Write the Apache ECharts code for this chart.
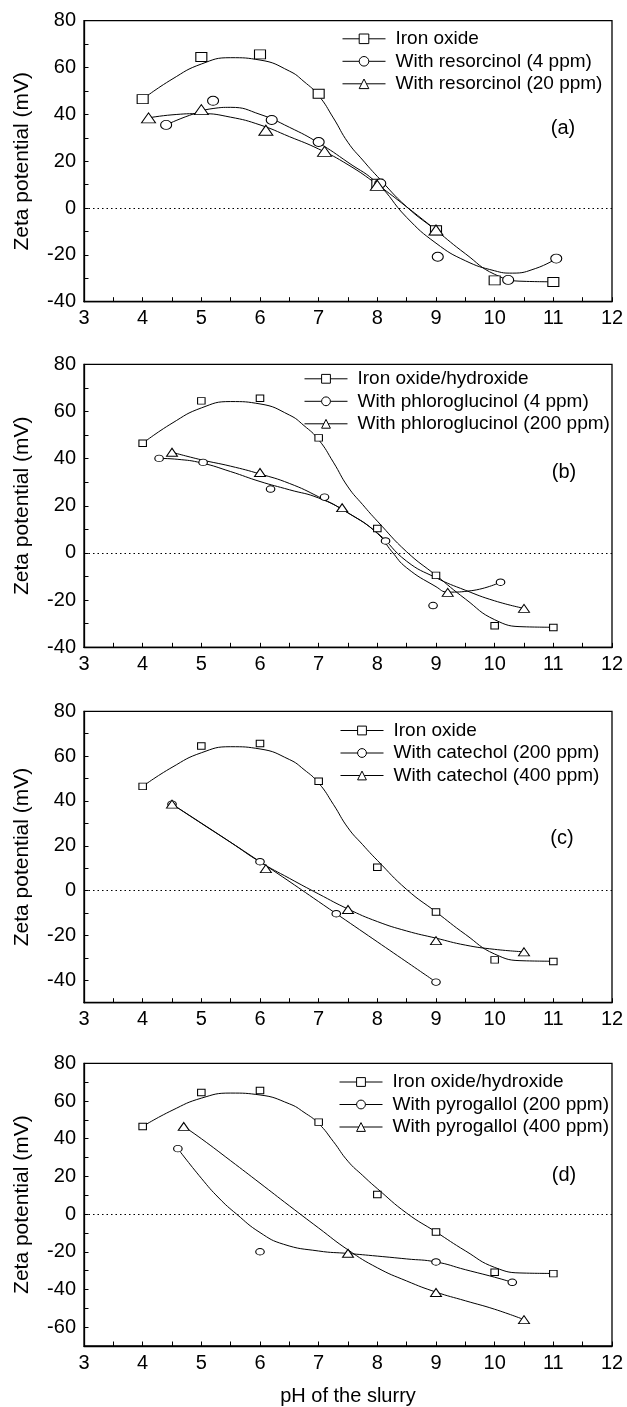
<!DOCTYPE html>
<html><head><meta charset="utf-8">
<script src="https://cdn.jsdelivr.net/npm/echarts@6/dist/echarts.min.js"></script>
<style>html,body{margin:0;padding:0;background:#fff}#c{width:627px;height:1407px}</style>
</head><body><div id="c"></div>
<script>
const FONT = '"Liberation Sans", Arial, Helvetica, sans-serif';

// ---- axis ranges / labels ----
const xRange = [3, 12];
const yRanges = [[-40, 80], [-40, 80], [-50, 80], [-70, 80]];
const panelTags = ['(a)', '(b)', '(c)', '(d)'];
const yName = 'Zeta potential (mV)';
const xName = 'pH of the slurry';

// ---- legend names ----
const namesA = ['Iron oxide', 'With resorcinol (4 ppm)', 'With resorcinol (20 ppm)'];
const namesB = ['Iron oxide/hydroxide', 'With phloroglucinol (4 ppm)', 'With phloroglucinol (200 ppm)'];
const namesC = ['Iron oxide', 'With catechol (200 ppm)', 'With catechol (400 ppm)'];
const namesD = ['Iron oxide/hydroxide', 'With pyrogallol (200 ppm)', 'With pyrogallol (400 ppm)'];

// ---- iron oxide (same in every panel) ----
const ironPts = [[4,46.5],[5,64.5],[6,65.6],[7,48.8],[8,10.4],[9,-9.5],[10,-30.9],[11,-31.6]];
const ironCurve = [[4,46.5],[4.5,55],[5,61.5],[5.5,64.2],[6,63.2],[6.5,58.5],[6.75,54],[7,48],[7.25,38.5],[7.5,28],[7.75,20.5],[8,13.5],[8.5,0.5],[9,-9.5],[9.5,-19.5],[10,-28.3],[10.5,-31.3],[11,-31.5]];

// ---- panel (a) resorcinol ----
const resor4Pts = [[4.4,35.5],[5.2,45.8],[6.2,37.6],[7.0,28.2],[8.05,10.5],[9.03,-20.8],[10.23,-30.7],[11.05,-21.6]];
const resor4Curve = [[4.4,35.5],[4.8,39.6],[5.2,42.5],[5.5,43],[6,40],[6.5,34.5],[7,27.8],[7.5,19.5],[8,10.5],[8.5,-4],[9,-15],[9.5,-22.5],[10,-26.8],[10.3,-27.8],[10.7,-25.8],[11.05,-21.6]];
const resor20Pts = [[4.1,38.5],[5.0,42],[6.1,33.2],[7.1,24.2],[8.0,9.7],[9.0,-9.4]];
const resor20Curve = [[4.1,38.5],[4.5,39.8],[5,40.3],[5.5,38.8],[6,35.5],[6.5,30.5],[7,25.2],[7.5,18.5],[8,10],[8.5,0.5],[9,-9.4]];

// ---- panel (b) phloroglucinol ----
const phlor4Pts = [[4.28,40.1],[5.03,38.4],[6.18,27.1],[7.1,23.7],[8.14,5.1],[8.95,-22.3],[10.1,-12.4]];
const phlor4Curve = [[4.28,40.1],[4.6,39.7],[5,38.2],[5.5,34.5],[6,30.3],[6.5,26.8],[7,23.3],[7.5,17],[8,8.3],[8.25,0.5],[8.5,-6.3],[9,-14.3],[9.2,-16.6],[9.6,-16],[10.1,-12.4]];
const phlor200Pts = [[4.5,42.7],[6.0,34.1],[7.4,19.2],[9.2,-16.7],[10.5,-23.5]];
const phlor200Curve = [[4.5,42.7],[5,39.5],[5.5,36.8],[6,33.5],[6.5,29.5],[7,23.8],[7.5,17],[8,8.5],[8.5,-3.5],[9,-10.5],[9.5,-15.8],[10,-20.3],[10.5,-23.5]];

// ---- panel (c) catechol ----
const cat200Pts = [[4.5,38.6],[6.0,12.9],[7.3,-10.3],[9.0,-40.8]];
const cat200Curve = [[4.5,38.6],[6.0,12.9],[7.3,-10.3],[9.0,-40.8]];
const cat400Pts = [[4.5,38.6],[6.1,9.8],[7.5,-8.4],[9.0,-22.3],[10.5,-27.3]];
const cat400Curve = [[4.5,38.6],[5,30],[5.5,21.5],[6,12.8],[6.5,5.5],[7,-1.5],[7.5,-8.2],[8,-13.8],[8.5,-18],[9,-21.2],[9.5,-24.3],[10,-26.2],[10.5,-27.3]];

// ---- panel (d) pyrogallol ----
const pyro200Pts = [[4.6,34.7],[6.0,-20],[9.0,-25.4],[10.3,-36.2]];
const pyro200Curve = [[4.6,34.7],[5,19],[5.3,8.5],[5.6,0],[6,-9.8],[6.4,-16],[7,-19.6],[7.5,-20.9],[8,-22.3],[8.5,-23.8],[9,-25.4],[9.5,-29.5],[10,-33.5],[10.3,-36.2]];
const pyro400Pts = [[4.7,46.5],[7.5,-20.8],[9.0,-41.6],[10.5,-56]];
const pyro400Curve = [[4.7,46.5],[5,40],[5.5,28.3],[6,16.4],[6.5,4.4],[7,-7.4],[7.5,-19],[8,-28.5],[8.5,-35.5],[9,-41.4],[9.5,-46],[10,-50.5],[10.5,-56]];

const symbols = ['rect', 'circle', 'triangle'];

const panels = [
  { names: namesA, pts: [ironPts, resor4Pts, resor20Pts], curves: [ironCurve, resor4Curve, resor20Curve],
    top: 20.7, height: 281, legendLeft: 342, legendTop: 29.3, legendH: 12, tagX: 563, tagY: 128,
    sizes: [[11,9],[11,9],[14,10]] },
  { names: namesB, pts: [ironPts, phlor4Pts, phlor200Pts], curves: [ironCurve, phlor4Curve, phlor200Curve],
    top: 364.3, height: 283, legendLeft: 304, legendTop: 369.3, legendH: 11, tagX: 564, tagY: 472,
    sizes: [[7.5,6.5],[8.5,6.5],[11,8]] },
  { names: namesC, pts: [ironPts, cat200Pts, cat400Pts], curves: [ironCurve, cat200Curve, cat400Curve],
    top: 711.3, height: 291.4, legendLeft: 340, legendTop: 721, legendH: 11, tagX: 562, tagY: 838,
    sizes: [[7.5,6.5],[8.5,6.5],[11,8]] },
  { names: namesD, pts: [ironPts, pyro200Pts, pyro400Pts], curves: [ironCurve, pyro200Curve, pyro400Curve],
    top: 1063.3, height: 283.3, legendLeft: 339, legendTop: 1072.5, legendH: 11, tagX: 564, tagY: 1175,
    sizes: [[7.5,6.5],[8.5,6.5],[11,8]] }
];

const grid = [], xAxis = [], yAxis = [], series = [], legend = [], graphic = [];
panels.forEach((p, i) => {
  grid.push({ left: 84, width: 528, top: p.top, height: p.height, show: true,
    borderColor: '#000', borderWidth: 1.3, backgroundColor: 'transparent' });
  xAxis.push({ type: 'value', gridIndex: i, min: xRange[0], max: xRange[1], interval: 1,
    axisLine: { show: true, onZero: false, lineStyle: { color: '#000', width: 1.3 } },
    axisTick: { show: true, inside: true, length: 4.5, lineStyle: { color: '#000', width: 1 } },
    minorTick: { show: true, splitNumber: 2, length: 4.5, lineStyle: { color: '#000', width: 1 } },
    splitLine: { show: false },
    axisLabel: { color: '#000', fontSize: 20, fontFamily: FONT, margin: 7 },
    name: i === 3 ? xName : '', nameLocation: 'middle', nameGap: 40,
    nameTextStyle: { color: '#000', fontSize: 20, fontFamily: FONT } });
  yAxis.push({ type: 'value', gridIndex: i, min: yRanges[i][0], max: yRanges[i][1], interval: 10,
    axisLine: { show: true, onZero: false, lineStyle: { color: '#000', width: 1.3 } },
    axisTick: { show: true, inside: true, length: 4.5, lineStyle: { color: '#000', width: 1 } },
    splitLine: { show: false },
    axisLabel: { color: '#000', fontSize: 20, fontFamily: FONT, margin: 8,
      formatter: v => (v % 20 === 0 ? String(v) : '') },
    name: yName, nameLocation: 'middle', nameGap: 51,
    nameTextStyle: { color: '#000', fontSize: 21, fontFamily: FONT } });

  p.names.forEach((nm, k) => {
    const s = {
      type: 'line', name: nm, xAxisIndex: i, yAxisIndex: i, data: p.curves[k],
      symbol: symbols[k], showSymbol: false, smooth: 0.5,
      lineStyle: { color: '#000', width: 1 },
      itemStyle: { color: '#fff', borderColor: '#000', borderWidth: 1 },
      z: 2, silent: true
    };
    if (k === 0) {
      s.markLine = { silent: true, symbol: 'none', label: { show: false },
        lineStyle: { type: [1.5, 3], color: '#000', width: 1.2 },
        data: [{ yAxis: 0 }] };
    }
    series.push(s);
    series.push({
      type: 'scatter', name: 'pts-' + i + '-' + k, xAxisIndex: i, yAxisIndex: i, data: p.pts[k],
      symbol: symbols[k], symbolSize: p.sizes[k],
      itemStyle: { color: '#fff', borderColor: '#000', borderWidth: 1, opacity: 1 },
      z: 3, silent: true
    });
  });

  legend.push({ orient: 'vertical', left: p.legendLeft, top: p.legendTop, data: p.names,
    padding: 0, itemWidth: 43, itemHeight: p.legendH, itemGap: 3.5, selectedMode: false,
    textStyle: { color: '#000', fontSize: 19, fontFamily: FONT, padding: [0, 0, 0, 5] },
    itemStyle: { color: '#fff', borderColor: '#000', borderWidth: 1 },
    lineStyle: { color: '#000', width: 1 } });

  graphic.push({ type: 'text', x: p.tagX, y: p.tagY,
    style: { text: panelTags[i], fill: '#000', font: '20px ' + FONT, align: 'center', verticalAlign: 'middle' } });
});

const chart = echarts.init(document.getElementById('c'), null, { renderer: 'canvas' });
chart.setOption({ animation: false, backgroundColor: '#fff', grid, xAxis, yAxis, series, legend, graphic });
</script></body></html>
